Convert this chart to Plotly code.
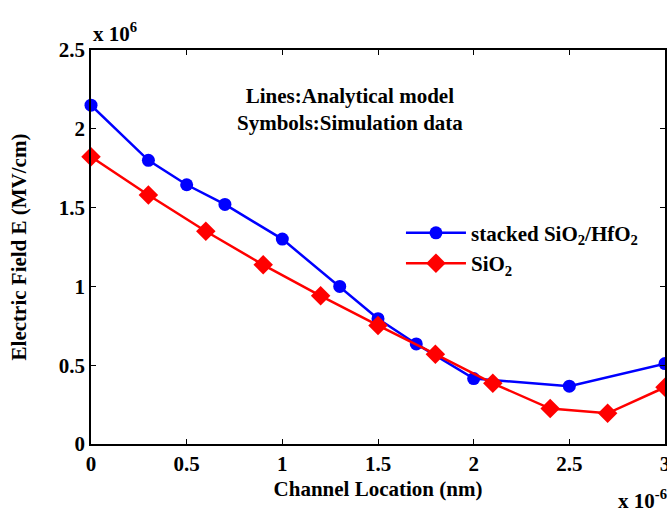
import plotly.graph_objects as go

# x in units of 1e-6, y in units of 1e6
x_stack = [0, 0.3, 0.5, 0.7, 1.0, 1.3, 1.5, 1.7, 2.0, 2.5, 3.0]
y_stack = [2.15, 1.80, 1.645, 1.52, 1.30, 1.00, 0.795, 0.635, 0.415, 0.367, 0.51]
x_sio2 = [0, 0.3, 0.6, 0.9, 1.2, 1.5, 1.8, 2.1, 2.4, 2.7, 3.0]
y_sio2 = [1.823, 1.58, 1.35, 1.137, 0.94, 0.752, 0.57, 0.385, 0.225, 0.195, 0.36]
x_ticks = [0, 0.5, 1, 1.5, 2, 2.5, 3]
y_ticks = [0, 0.5, 1, 1.5, 2, 2.5]

FONT = "Liberation Serif"

def b(s):
    return f"<b>{s}</b>"

fig = go.Figure()
fig.add_trace(go.Scatter(x=x_stack, y=y_stack, mode="lines+markers",
                         name=b("stacked SiO<sub>2</sub>/HfO<sub>2</sub>"),
                         line=dict(color="#0000ff", width=2.5),
                         marker=dict(symbol="circle", size=13, color="#0000ff"),
                         cliponaxis=False))
fig.add_trace(go.Scatter(x=x_sio2, y=y_sio2, mode="lines+markers",
                         name=b("SiO<sub>2</sub>"),
                         line=dict(color="#ff0000", width=2.5),
                         marker=dict(symbol="diamond", size=15, color="#ff0000"),
                         cliponaxis=False))

axis_common = dict(showline=True, linecolor="black", linewidth=1.5, mirror="ticks",
                   ticks="inside", ticklen=5, tickcolor="black", tickwidth=1,
                   showgrid=False, zeroline=False, ticklabeloverflow="allow",
                   automargin=False,
                   tickfont=dict(family=FONT, size=21, color="black"))

fig.update_layout(
    width=667, height=508,
    margin=dict(l=91, r=2, t=50, b=64, autoexpand=False),
    paper_bgcolor="white", plot_bgcolor="white",
    font=dict(family=FONT, color="black"),
    xaxis=dict(range=[0, 3], tickvals=x_ticks, ticktext=[b(f"{v:g}") for v in x_ticks],
               title=dict(text=b("Channel Location (nm)"), standoff=6,
                          font=dict(family=FONT, size=21)),
               **axis_common),
    yaxis=dict(range=[0, 2.5], tickvals=y_ticks, ticktext=[b(f"{v:g}") for v in y_ticks],
               title=dict(text=b("Electric Field E (MV/cm)"), standoff=26,
                          font=dict(family=FONT, size=21)),
               **axis_common),
    legend=dict(x=0.54, y=0.497, xanchor="left", yanchor="middle",
                bgcolor="rgba(0,0,0,0)", itemwidth=60,
                font=dict(family=FONT, size=21),
                tracegroupgap=6),
    showlegend=True,
)

fig.add_annotation(x=0.451, y=0.848, xref="paper", yref="paper", yanchor="middle",
                   text=b("Lines:Analytical model<br>Symbols:Simulation data"),
                   showarrow=False, align="center",
                   font=dict(family=FONT, size=21))
fig.add_annotation(x=0, y=1.0, xref="paper", yref="paper", xanchor="left", yanchor="bottom",
                   text=b("x 10<sup>6</sup>"), showarrow=False, yshift=2,
                   font=dict(family=FONT, size=21))
fig.add_annotation(x=0.9146, y=0, xref="paper", yref="paper", xanchor="left", yanchor="top",
                   text=b("x 10<sup>-6</sup>"), showarrow=False, yshift=-40,
                   font=dict(family=FONT, size=21))

fig.write_html("out.html")
